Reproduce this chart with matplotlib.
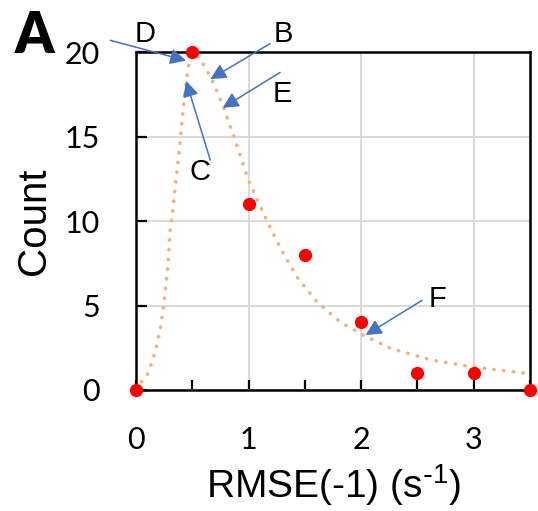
import matplotlib
matplotlib.use("Agg")
import matplotlib.pyplot as plt
from matplotlib.ticker import MultipleLocator

plt.rcParams['mathtext.default'] = 'regular'

# measured counts
rmse = [0, 0.5, 1.0, 1.5, 2.0, 2.5, 3.0, 3.5]
count = [0, 20, 11, 8, 4, 1, 1, 0]

# fitted curve
fit_x = [0, 0.05, 0.10, 0.15, 0.19, 0.22, 0.245, 0.27, 0.29, 0.30, 0.325, 0.356,
         0.385, 0.415, 0.445, 0.47, 0.50, 0.54, 0.58, 0.68, 0.78, 0.90, 1.00,
         1.15, 1.29, 1.43, 1.61, 1.82, 2.02, 2.26, 2.62, 2.97, 3.46]
fit_y = [0, 0.5, 0.9, 1.8, 2.8, 3.8, 5.0, 6.5, 7.9, 9.3, 10.5, 12.5,
         14.2, 16.4, 18.1, 19.3, 19.9, 19.9, 19.5, 18.3, 16.7, 14.4, 12.4,
         10.2, 8.3, 6.7, 5.2, 4.0, 3.25, 2.47, 1.78, 1.38, 0.99]

# annotations: label, label position, arrow start, arrow tip
labels = ['D', 'B', 'E', 'C', 'F']
label_pos = [(0.08, 21.1), (1.31, 21.1), (1.30, 17.5), (0.57, 12.9), (2.68, 5.4)]
arrow_start = [(-0.23, 20.7), (1.19, 20.5), (1.28, 18.8), (0.66, 13.6), (2.54, 5.3)]
arrow_tip = [(0.445, 19.5), (0.66, 18.4), (0.77, 16.7), (0.445, 18.3), (2.04, 3.25)]

fig = plt.figure(figsize=(5.38, 5.11), dpi=100)
ax = fig.add_axes([0.2528, 0.2368, 0.7322, 0.6612])

ax.plot(fit_x, fit_y, color='#F4B183', lw=2.6, linestyle=(0, (0.1, 2.6)),
        dash_capstyle='round', zorder=2)
ax.plot(rmse, count, 'o', color='#FF0000', markersize=8.5, clip_on=False, zorder=4)

for lab, p, s, t in zip(labels, label_pos, arrow_start, arrow_tip):
    ax.annotate('', xy=t, xytext=s, annotation_clip=False,
                arrowprops=dict(arrowstyle='-|>', color='#4472C4', lw=1.1,
                                mutation_scale=24, shrinkA=0, shrinkB=0), zorder=5)
    ax.text(p[0], p[1], lab, fontsize=21, family='Liberation Sans',
            ha='center', va='center', clip_on=False)

ax.set_xlim(0, 3.5)
ax.set_ylim(0, 20)
ax.xaxis.set_major_locator(MultipleLocator(1))
ax.xaxis.set_minor_locator(MultipleLocator(0.5))
ax.yaxis.set_major_locator(MultipleLocator(5))
ax.grid(True, which='major', color='#D9D9D9', lw=1.4, zorder=0)
ax.set_axisbelow(True)

ax.tick_params(axis='x', which='both', direction='in', length=7, width=1.6, pad=26)
ax.tick_params(axis='y', which='major', direction='in', length=8, width=1.6, pad=26)
ax.tick_params(axis='both', labelsize=22)
for lbl in ax.get_xticklabels() + ax.get_yticklabels():
    lbl.set_family('Lato')

for sp in ax.spines.values():
    sp.set_linewidth(1.8)
    sp.set_color('black')

ax.set_xlabel(r'RMSE(-1) (s$^{\text{-}1}$)', fontsize=28, family='Liberation Sans', labelpad=6)
ax.set_ylabel('Count', fontsize=29, family='Liberation Sans', labelpad=8)

fig.text(15 / 538, 1 - 53 / 511, 'A', fontsize=40, fontweight='heavy',
         family='Lato', ha='left', va='baseline')

fig.savefig('out.png', dpi=100)
